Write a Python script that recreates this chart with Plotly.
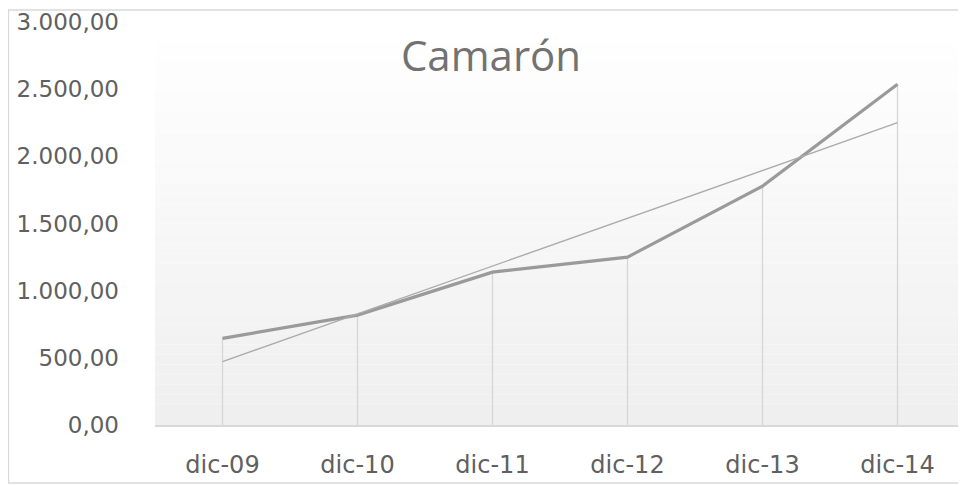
import numpy as np
import plotly.graph_objects as go

# data
meses = ['dic-09', 'dic-10', 'dic-11', 'dic-12', 'dic-13', 'dic-14']
camaron = [645, 818, 1138, 1250, 1778, 2537]

# linear trendline (like Excel's)
xi = np.arange(len(meses))
pend, corte = np.polyfit(xi, camaron, 1)
tendencia = pend * xi + corte

fig = go.Figure()

# drop lines from each point to the axis
fig.add_trace(go.Scatter(x=meses, y=camaron, mode='markers',
                         marker=dict(size=1, color='rgba(0,0,0,0)'),
                         error_y=dict(type='data', symmetric=False,
                                      array=[0] * len(camaron), arrayminus=camaron,
                                      width=0, thickness=1.3, color='#d6d6d6'),
                         showlegend=False, hoverinfo='skip'))
fig.add_trace(go.Scatter(x=meses, y=camaron, mode='lines',
                         line=dict(color='#9a9a9a', width=3.2),
                         name='Camarón', showlegend=False))
fig.add_trace(go.Scatter(x=meses, y=tendencia, mode='lines',
                         line=dict(color='#ababab', width=1.4),
                         name='Lineal', showlegend=False))

# gradient background of the plot area (white -> light grey)
n = 40
for i in range(n):
    t = i / (n - 1)
    c = int(round(255 - t * 16))
    fig.add_shape(type='rect', xref='x domain', yref='y domain',
                  x0=0, x1=1, y0=1 - (i + 1) / n, y1=1 - i / n,
                  fillcolor=f'rgb({c},{c},{c})', line_width=0, layer='below')

# chart border
fig.add_shape(type='rect', xref='paper', yref='paper',
              x0=-0.181, x1=0.998, y0=-0.144, y1=1.03,
              line=dict(color='#d9d9d9', width=1.5), fillcolor='rgba(0,0,0,0)')

# the page has an 8px body margin, so margins are shifted to compensate
fig.update_layout(
    width=966,
    height=485,
    autosize=False,
    margin=dict(t=14, b=68, l=147, r=9),
    paper_bgcolor='white',
    plot_bgcolor='white',
    separators=',.',
    font=dict(family='DejaVu Sans, sans-serif', color='#606060', size=23),
    title=dict(text='Camarón', x=0.5, xanchor='center', y=0.9, yanchor='middle',
               font=dict(family='Open Sans, sans-serif', size=42, color='#727272')),
    xaxis=dict(type='category', range=[-0.5, 5.5], showgrid=False,
               showline=True, linecolor='#d9d9d9', linewidth=1.5,
               ticks='', ticklabelstandoff=17, zeroline=False, automargin=False,
               tickfont=dict(size=24)),
    yaxis=dict(range=[0, 3000], dtick=500, tickformat=',.2f', showgrid=False,
               showline=False, zeroline=False, ticks='', ticklabelstandoff=35,
               automargin=False),
)

fig.write_html("out.html")
